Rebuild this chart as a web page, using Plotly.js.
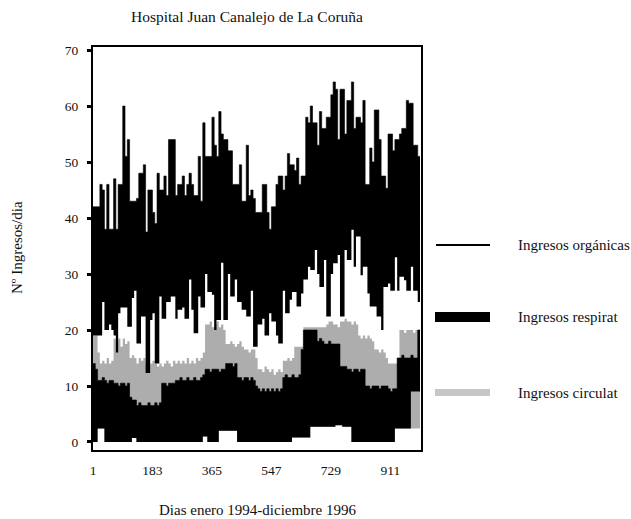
<!DOCTYPE html>
<html>
<head>
<meta charset="utf-8">
<script src="https://cdn.plot.ly/plotly-3.0.1.min.js"></script>
<style>
  html, body { margin: 0; padding: 0; background: #fff; }
  #grafico { width: 631px; height: 519px; }
</style>
</head>
<body>
<div id="grafico"></div>
<script>
// Ingresos diarios, resumidos por semana (mínimo y máximo de cada semana).
// Semana k empieza el día 1 + 7k (enero 1994 en adelante).

// Ingresos por patología orgánica: máximo y mínimo semanal
const organicasMax = [
  42, 42, 42, 46, 45, 38, 46, 38, 38, 47,
  38, 46, 46, 60, 51, 54, 43, 43, 43, 43.5,
  48, 48, 49.5, 37.5, 45, 45, 41, 39, 48, 45,
  45, 47.5, 44, 54, 54, 54, 44, 46, 46, 47.5,
  44, 46, 48, 46, 44, 44, 51, 43, 57, 51,
  51, 51, 58, 53, 51, 59, 55, 54, 54, 52,
  52, 46, 46, 46, 49.5, 43, 43, 53, 44, 45,
  43.5, 41, 41, 41, 46, 46, 41, 38, 42, 42,
  46, 47.5, 47.5, 45, 47.5, 51.5, 49.5, 49.5, 48.5, 50.7,
  46, 47.5, 47.5, 58, 57, 60, 57, 57, 53, 59,
  56, 56, 58, 58, 62, 64.3, 63, 54, 63, 63,
  55, 61, 61, 64.3, 56, 58, 58, 57, 61, 46,
  46, 52.5, 50, 59.3, 59.3, 54, 47.5, 47.5, 45.3, 55,
  55, 52, 54, 54, 55, 56, 56, 61, 60.5, 60.5,
  53, 53, 51, 51
];
const organicasMin = [
  19, 19, 19, 19, 25, 20, 20, 21, 20, 19,
  16, 23, 24, 24, 24, 20.6, 20.6, 25.7, 27, 17.6,
  17.6, 22.4, 22.4, 12.3, 12.3, 21.8, 23, 14, 14, 26,
  22, 22, 25, 25, 26, 26, 22, 23.6, 23.6, 24,
  22, 22, 29, 23.6, 19.4, 19.4, 26, 24, 24, 30,
  26.8, 26.8, 26.3, 20, 21.8, 21.8, 32, 21.8, 21.8, 30,
  26, 26, 29, 25, 25, 23.6, 23.6, 22.4, 22.4, 27,
  17, 17, 21, 21, 22, 19, 19, 23, 21.5, 21.5,
  19, 17.6, 17.6, 27, 23, 23, 25.4, 26.8, 26.8, 24.2,
  24.2, 26.5, 29, 29, 31.3, 30.7, 30.7, 34.3, 30, 27.7,
  27.7, 32.5, 22.4, 22.4, 30, 31.9, 31.9, 33.4, 22.4, 22.4,
  34.3, 32.5, 32.5, 37.9, 31.3, 36.7, 36.7, 29.8, 31.3, 31.3,
  26.5, 24.2, 24.2, 24.2, 22.4, 22.4, 20, 27.7, 27.7, 28.3,
  27, 27, 33, 27, 29.5, 29.5, 28.9, 27, 27, 31.3,
  27, 27, 25, 25
];

// Ingresos por patología respiratoria: máximo y mínimo semanal
const respiratMax = [
  14, 13, 11, 11, 11.5, 11, 10.5, 11, 11, 10.5,
  10.5, 10, 10.5, 10.5, 10, 10.5, 8, 7.5, 7.5, 6.5,
  7, 6.5, 6.5, 6.5, 7, 6.5, 6.5, 7, 6.5, 7,
  10.5, 10.5, 10, 10.5, 10.5, 10.5, 11, 11, 11.5, 11,
  11, 11.5, 11, 11, 11.5, 11, 11, 11.5, 12, 13,
  13, 12.5, 13, 13, 13, 12.5, 13, 13, 14, 14,
  14, 13.5, 14, 11.5, 11.5, 11, 11.5, 11.5, 11, 11.5,
  11, 10, 9.5, 9, 9.5, 9, 9.5, 9, 9.5, 9,
  9.5, 9, 9.5, 11.5, 12, 11.5, 11.5, 12, 11.5, 11.5,
  12, 16.5, 20, 20, 20, 20, 20, 20, 18, 18.5,
  18, 17.5, 17.5, 18, 17.5, 17.5, 17.5, 17.5, 13.5, 13.5,
  13.5, 13, 13, 12.5, 13, 13, 12.5, 13, 13, 10,
  10, 9.5, 10, 10, 10, 9.5, 10, 10, 10, 9.5,
  9, 9.5, 9.5, 15, 15, 15.5, 15, 15, 15, 15.5,
  15, 15, 20, 20
];
const respiratMin = [
  0, 0, 2.4, 2.4, 2.4, 0, 0, 0, 0, 0,
  0, 0, 0, 0, 0, 0, 0, 0.7, 0.7, 0,
  0, 0, 0, 0, 0, 0, 0, 0, 0, 0,
  0, 0, 0, 0, 0, 0, 0, 0, 0, 0,
  0, 0, 0, 0, 0, 0, 0, 0, 1, 1,
  0, 0, 0, 0, 0, 2, 2, 2, 2, 2,
  2, 2, 2, 0, 0, 0, 0, 0, 0, 0,
  0, 0, 0, 0, 0, 0, 0, 0, 0, 0,
  0, 0, 0, 0, 0, 0, 0, 0.8, 0.8, 0.8,
  0.8, 0.8, 0.8, 0.8, 0.8, 2.7, 2.7, 2.7, 2.7, 2.7,
  2.7, 2.7, 2.7, 2.7, 2.7, 2.7, 3, 3, 3, 2.7,
  2.7, 2.7, 2.7, 0, 0, 0, 0, 0, 0, 0,
  0, 0, 0, 0, 0, 0, 0, 0, 0, 0,
  0, 0, 2.4, 2.4, 2.4, 2.4, 2.4, 2.4, 2.4, 9,
  9, 9, 9, 9
];

// Ingresos por patología circulatoria: máximo y mínimo semanal
const circulatMax = [
  19, 19, 16, 14, 14.5, 14, 15, 14, 14.5, 18.5,
  18, 18.5, 17, 18.5, 17.5, 18, 15, 15.5, 15, 14,
  15, 14.5, 15, 14, 13.5, 14, 14.5, 14, 13.5, 14,
  13.5, 14, 14.5, 14, 13.5, 14.5, 14, 14.5, 14, 14.5,
  14, 15, 14, 14.5, 14, 15, 14.5, 15, 16, 21,
  21, 21.5, 20.5, 21, 21.5, 20.5, 21, 20, 17.5, 17.5,
  18, 17.5, 17, 17.5, 18, 17, 16.5, 16.5, 16, 16.5,
  16.5, 15, 13, 13, 12.5, 13.5, 13, 12.5, 13, 12,
  12.5, 13, 12.5, 14.5, 14.5, 15, 14.5, 15, 17, 17,
  17, 17, 20.5, 20.5, 20.5, 20.5, 20.5, 20.5, 20.5, 20.5,
  20.5, 20.5, 21, 21.5, 21.5, 21, 21, 20.5, 21.5, 21.5,
  22, 21.5, 21.5, 21, 21.5, 21, 19, 18.5, 19, 18.5,
  19, 18.5, 18, 16.5, 16.5, 16, 16.5, 16, 15, 14,
  14, 14, 14, 15, 20, 20, 19.5, 20, 20, 20,
  19.5, 20, 20, 20
];
const circulatMin = [
  0, 0, 2.4, 2.4, 2.4, 0, 0, 0, 0, 0,
  0, 0, 0, 0, 0, 0, 0, 0.7, 0.7, 0,
  0, 0, 0, 0, 0, 0, 0, 0, 0, 0,
  0, 0, 0, 0, 0, 0, 0, 0, 0, 0,
  0, 0, 0, 0, 0, 0, 0, 0, 1, 1,
  0, 0, 0, 0, 0, 2, 2, 2, 2, 2,
  2, 2, 2, 0, 0, 0, 0, 0, 0, 0,
  0, 0, 0, 0, 0, 0, 0, 0, 0, 0,
  0, 0, 0, 0, 0, 0, 0, 0.8, 0.8, 0.8,
  0.8, 0.8, 0.8, 0.8, 0.8, 2.7, 2.7, 2.7, 2.7, 2.7,
  2.7, 2.7, 2.7, 2.7, 2.7, 2.7, 3, 3, 3, 2.7,
  2.7, 2.7, 2.7, 0, 0, 0, 0, 0, 0, 0,
  0, 0, 0, 0, 0, 0, 0, 0, 0, 0,
  0, 0, 2.4, 2.4, 2.4, 2.4, 2.4, 2.4, 2.4, 2.4,
  2.4, 2.4, 2.4, 2.4
];

// Eje X: días del periodo
const diasTicks = [1, 183, 365, 547, 729, 911];
const yTicks = [0, 10, 20, 30, 40, 50, 60, 70];

const leyenda = ['Ingresos orgánicas', 'Ingresos respirat', 'Ingresos circulat'];

// Día de inicio de cada semana
const dia = organicasMax.map((_, k) => 1 + 7 * k);

const SERIF = 'Liberation Serif, Times New Roman, serif';
const GRIS = '#bfbfbf';
// Trama de puntos fina para la serie circulatoria
const TRAMA = { shape: '.', fgcolor: '#7a7a7a', bgcolor: '#d6d6d6', size: 2, solidity: 0.5 };

// Banda entre el mínimo y el máximo semanal de una serie
function banda(nombre, minimo, maximo, color, patron) {
  const base = {
    x: dia, y: minimo, type: 'scatter', mode: 'lines',
    line: { width: 0, shape: 'hv' }, hoverinfo: 'skip', showlegend: false
  };
  const techo = {
    x: dia, y: maximo, type: 'scatter', mode: 'lines', name: nombre,
    line: { width: patron ? 0 : 0.6, shape: 'hv', color: color },
    fill: 'tonexty', fillcolor: color, showlegend: false
  };
  if (patron) techo.fillpattern = patron;
  return [base, techo];
}

const trazas = [
  ...banda(leyenda[2], circulatMin, circulatMax, GRIS, TRAMA),
  ...banda(leyenda[1], respiratMin, respiratMax, '#000'),
  ...banda(leyenda[0], organicasMin, organicasMax, '#000')
];

// Leyenda dibujada a la derecha del gráfico
const W = 328, H = 403, L = 93, T = 47;
const px = v => (v - L) / W;
const py = v => (T + H - v) / H;

const shapes = [
  { type: 'line', xref: 'paper', yref: 'paper', x0: px(436), x1: px(490), y0: py(245), y1: py(245),
    line: { color: '#000', width: 2 } },
  { type: 'rect', xref: 'paper', yref: 'paper', x0: px(435), x1: px(490), y0: py(312), y1: py(322),
    fillcolor: '#000', line: { width: 0 } },
  { type: 'rect', xref: 'paper', yref: 'paper', x0: px(435), x1: px(490), y0: py(389), y1: py(396),
    fillcolor: '#c6c6c6', line: { width: 0 } }
];

const TXT = { family: SERIF, size: 15, color: '#111' };

const annotations = [
  { text: leyenda[0], x: px(516), y: py(245) },
  { text: leyenda[1], x: px(516), y: py(317) },
  { text: leyenda[2], x: px(516), y: py(393) }
].map(a => Object.assign({
  xref: 'paper', yref: 'paper', xanchor: 'left', yanchor: 'middle', showarrow: false,
  font: TXT
}, a));

annotations.push({
  text: 'Dias enero 1994-diciembre 1996', xref: 'paper', yref: 'paper',
  x: px(258), y: py(510), xanchor: 'center', yanchor: 'middle', showarrow: false,
  font: TXT
});
annotations.push({
  text: 'Nº Ingresos/dia', xref: 'paper', yref: 'paper', textangle: -90,
  x: px(17), y: py(248), xanchor: 'center', yanchor: 'middle', showarrow: false,
  font: TXT
});

const layout = {
  width: 631, height: 519,
  margin: { l: L, r: 631 - L - W, t: T, b: 519 - T - H },
  paper_bgcolor: '#fff', plot_bgcolor: '#fff',
  showlegend: false,
  title: {
    text: 'Hospital Juan Canalejo de La Coruña',
    x: 247 / 631, xanchor: 'center', y: 1 - 17 / 519, yanchor: 'middle',
    font: { family: SERIF, size: 15.5, color: '#111' }
  },
  xaxis: {
    range: [1, 1005], tickvals: diasTicks, ticktext: diasTicks.map(String),
    ticks: '', showgrid: false, zeroline: false,
    showline: true, mirror: true, linecolor: '#000', linewidth: 2,
    tickfont: { family: SERIF, size: 13.5, color: '#111' }, ticklabelstandoff: 7
  },
  yaxis: {
    range: [-1.43, 70.54], tickvals: yTicks, ticktext: yTicks.map(String),
    ticks: 'outside', ticklen: 4, tickwidth: 3, tickcolor: '#000',
    showgrid: false, zeroline: false,
    showline: true, mirror: true, linecolor: '#000', linewidth: 2,
    tickfont: { family: SERIF, size: 13.5, color: '#111' }, ticklabelstandoff: 6
  },
  shapes: shapes,
  annotations: annotations
};

Plotly.newPlot('grafico', trazas, layout, { staticPlot: true, displayModeBar: false });
</script>
</body>
</html>
